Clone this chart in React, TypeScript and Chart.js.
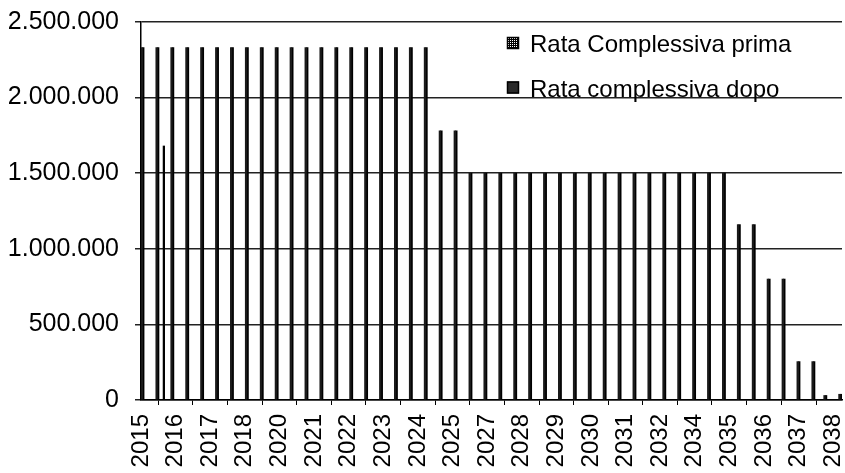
import React, { useEffect, useRef } from 'react';
import { Chart, registerables } from 'chart.js';

Chart.register(...registerables);

// Payment dates (decimal years)
const PAYMENT_DATES = [
  2015.5, 2016.0, 2016.19, 2016.5, 2017.0, 2017.5, 2018.0, 2018.5, 2019.0, 2019.5,
  2020.0, 2020.5, 2021.0, 2021.5, 2022.0, 2022.5, 2023.0, 2023.5, 2024.0, 2024.5,
  2025.0, 2025.5, 2026.0, 2026.5, 2027.0, 2027.5, 2028.0, 2028.5, 2029.0, 2029.5,
  2030.0, 2030.5, 2031.0, 2031.5, 2032.0, 2032.5, 2033.0, 2033.5, 2034.0, 2034.5,
  2035.0, 2035.5, 2036.0, 2036.5, 2037.0, 2037.5, 2038.0, 2038.4, 2038.9,
];

const RATA_PRIMA: (number | null)[] = [
  2330000, 2330000, null, 2330000, 2330000, 2330000, 2330000, 2330000, 2330000, 2330000,
  2330000, 2330000, 2330000, 2330000, 2330000, 2330000, 2330000, 2330000, 2330000, 2330000,
  2330000, 1780000, 1780000, 1500000, 1500000, 1500000, 1500000, 1500000, 1500000, 1500000,
  1500000, 1500000, 1500000, 1500000, 1500000, 1500000, 1500000, 1500000, 1500000, 1500000,
  1500000, 1160000, 1160000, 800000, 800000, 254000, 254000, 30000, 38000,
];

const RATA_DOPO: (number | null)[] = [
  2330000, 2330000, 1680000, 2330000, 2330000, 2330000, 2330000, 2330000, 2330000, 2330000,
  2330000, 2330000, 2330000, 2330000, 2330000, 2330000, 2330000, 2330000, 2330000, 2330000,
  2330000, 1780000, 1780000, 1500000, 1500000, 1500000, 1500000, 1500000, 1500000, 1500000,
  1500000, 1500000, 1500000, 1500000, 1500000, 1500000, 1500000, 1500000, 1500000, 1500000,
  1500000, 1160000, 1160000, 800000, 800000, 254000, 254000, 30000, 38000,
];

const SERIES_LABELS = ['Rata Complessiva prima', 'Rata complessiva dopo'];

const X_TICK_POSITIONS = [
  2015.45, 2016.61, 2017.77, 2018.93, 2020.09, 2021.25, 2022.41, 2023.58, 2024.74, 2025.9,
  2027.06, 2028.22, 2029.38, 2030.54, 2031.7, 2032.86, 2034.02, 2035.18, 2036.34, 2037.51,
  2038.67,
];
const X_TICK_LABELS = [
  '2015', '2016', '2017', '2018', '2020', '2021', '2022', '2023', '2024', '2025',
  '2027', '2028', '2029', '2030', '2031', '2032', '2034', '2035', '2036', '2037',
  '2038',
];
const X_MIN = 2015.45;
const X_MAX = 2038.96;
const Y_MIN = 0;
const Y_MAX = 2500000;
const Y_STEP = 500000;

const FONT = '"Liberation Sans", Arial, sans-serif';

function formatIt(v: number): string {
  return String(Math.round(v)).replace(/\B(?=(\d{3})+(?!\d))/g, '.');
}

function makePattern(ctx: CanvasRenderingContext2D): CanvasPattern | string {
  const c = document.createElement('canvas');
  c.width = 2;
  c.height = 2;
  const p = c.getContext('2d');
  if (!p) return '#555';
  p.fillStyle = '#000';
  p.fillRect(0, 0, 2, 2);
  p.fillStyle = '#fff';
  p.fillRect(0, 0, 1, 1);
  return ctx.createPattern(c, 'repeat') || '#555';
}

const insideLegend = {
  id: 'insideLegend',
  afterDraw(chart: any) {
    const ctx: CanvasRenderingContext2D = chart.ctx;
    const { left, top } = chart.chartArea;
    const boxX = left + 366;
    const baselines = [top + 30, top + 74.5];
    chart.data.datasets.forEach((ds: any, i: number) => {
      const base = baselines[i];
      ctx.save();
      const boxTop = base - 15;
      if (i === 0) {
        ctx.fillStyle = makePattern(ctx);
      } else {
        ctx.fillStyle = '#2a2a2a';
      }
      ctx.fillRect(boxX, boxTop, 12, 12);
      ctx.strokeStyle = '#000';
      ctx.lineWidth = 1.5;
      ctx.strokeRect(boxX + 0.5, boxTop + 0.5, 11, 11);
      ctx.font = `24px ${FONT}`;
      ctx.fillStyle = '#000';
      ctx.textBaseline = 'alphabetic';
      ctx.textAlign = 'left';
      ctx.fillText(ds.label, boxX + 23, base);
      ctx.restore();
    });
  },
};

export default function App() {
  const canvasRef = useRef<HTMLCanvasElement | null>(null);

  useEffect(() => {
    if (!canvasRef.current) return;
    const prima = PAYMENT_DATES.map((d, i) => ({ x: d, y: RATA_PRIMA[i] }));
    const dopo = PAYMENT_DATES.map((d, i) => ({ x: d, y: RATA_DOPO[i] }));

    const chart = new Chart(canvasRef.current, {
      type: 'bar',
      data: {
        datasets: [
          {
            label: SERIES_LABELS[0],
            data: prima as any,
            backgroundColor: '#1a1a1a',
            borderWidth: 0,
            barThickness: 1.6,
          },
          {
            label: SERIES_LABELS[1],
            data: dopo as any,
            backgroundColor: '#000',
            borderWidth: 0,
            barThickness: 1.6,
          },
        ],
      },
      options: {
        animation: false,
        responsive: true,
        maintainAspectRatio: false,
        layout: { padding: { top: 22, right: 3, left: 0, bottom: 0 } },
        plugins: {
          legend: { display: false },
          tooltip: { enabled: false },
        },
        scales: {
          x: {
            type: 'linear',
            min: X_MIN,
            max: X_MAX,
            offset: false,
            afterBuildTicks: (axis: any) => {
              axis.ticks = X_TICK_POSITIONS.map((v) => ({ value: v }));
            },
            afterFit: (axis: any) => {
              axis.height = 73;
              axis.paddingLeft = 0;
              axis.paddingRight = 0;
            },
            grid: {
              drawOnChartArea: false,
              drawTicks: true,
              tickLength: 5,
              color: '#000',
              lineWidth: 1,
            },
            border: { display: true, color: '#000', width: 1.5 },
            ticks: {
              autoSkip: false,
              maxRotation: 90,
              minRotation: 90,
              padding: 9,
              color: '#000',
              font: { family: FONT, size: 24 },
              callback: (_v: any, index: number) => X_TICK_LABELS[index],
            },
          },
          y: {
            min: Y_MIN,
            max: Y_MAX,
            afterFit: (axis: any) => {
              axis.width = 141;
              axis.paddingTop = 0;
              axis.paddingBottom = 0;
            },
            grid: {
              color: '#222',
              lineWidth: 1.5,
              drawTicks: true,
              tickLength: 6,
            },
            border: { display: true, color: '#000', width: 1.5 },
            ticks: {
              stepSize: Y_STEP,
              padding: 16,
              color: '#000',
              font: { family: FONT, size: 25 },
              callback: (v: any) => formatIt(Number(v)),
            },
          },
        },
      },
      plugins: [insideLegend],
    });
    return () => chart.destroy();
  }, []);

  return (
    <div style={{ position: 'fixed', left: 0, top: 0, width: 845, height: 473, background: '#fff' }}>
      <canvas ref={canvasRef} />
    </div>
  );
}
